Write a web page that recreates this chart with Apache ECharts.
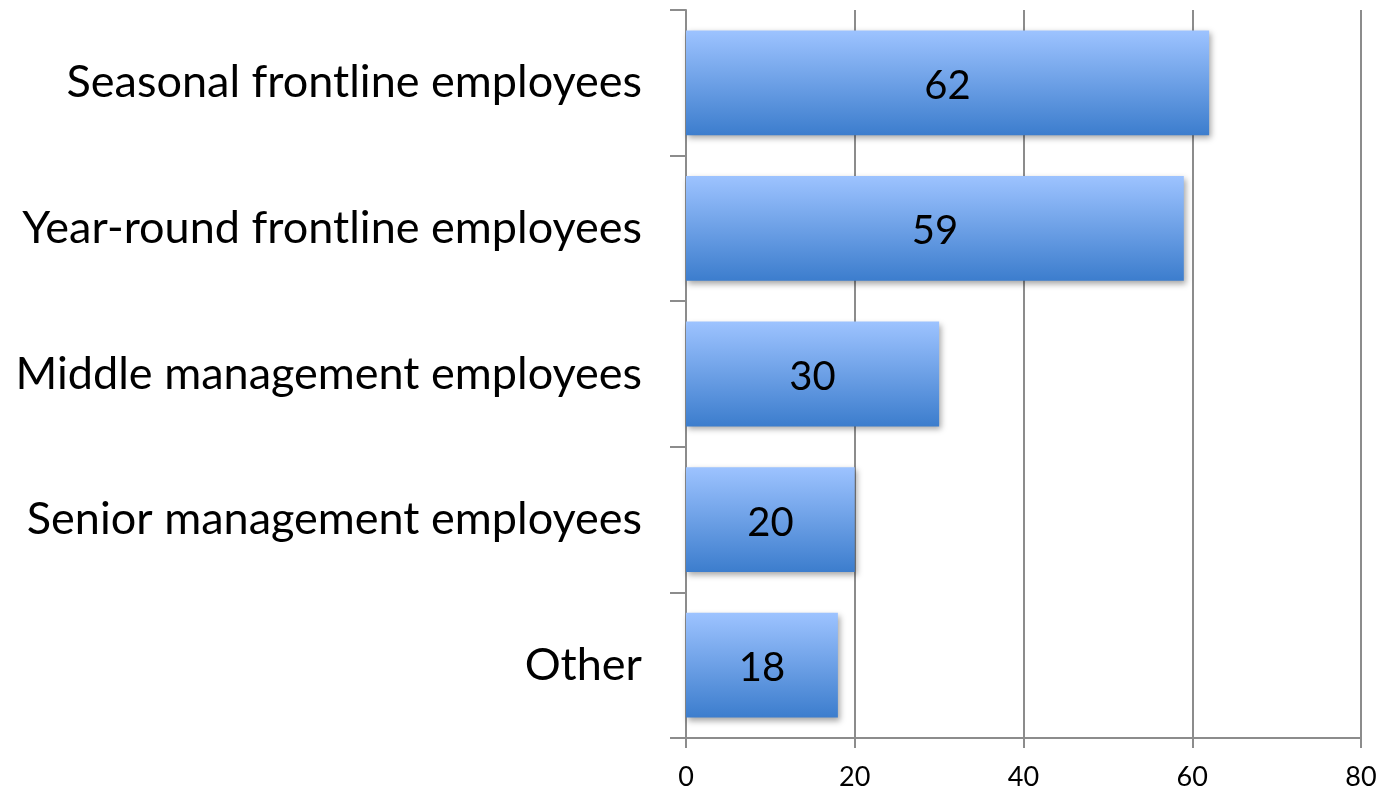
<!DOCTYPE html>
<html><head><meta charset="utf-8">
<script src="https://cdn.jsdelivr.net/npm/echarts@6/dist/echarts.min.js"></script>
<style>html,body{margin:0;padding:0;background:#fff}#c{width:1384px;height:792px}</style>
</head><body><div id="c"></div>
<script>
const categories = ["Seasonal frontline employees","Year-round frontline employees","Middle management employees","Senior management employees","Other"];
const values = [62, 59, 30, 20, 18];
const FONT = 'Lato';
const chart = echarts.init(document.getElementById('c'), null, {renderer:'canvas'});
chart.setOption({
  animation:false,
  grid:{left:686,right:23,top:10,bottom:54,containLabel:false},
  xAxis:{type:'value',min:0,max:80,interval:20,
    axisLine:{show:true,lineStyle:{color:'#8c8c8c',width:2}},
    axisTick:{show:true,length:10,lineStyle:{color:'#8c8c8c',width:2}},
    splitLine:{show:true,lineStyle:{color:'#8c8c8c',width:2}},
    axisLabel:{color:'#000',fontFamily:FONT,fontSize:27,margin:26}},
  yAxis:{type:'category',data:categories,inverse:true,
    axisLine:{show:true,lineStyle:{color:'#8c8c8c',width:2}},
    axisTick:{show:true,length:16,lineStyle:{color:'#8c8c8c',width:2}},
    axisLabel:{color:'#000',fontFamily:FONT,fontSize:45,margin:44}},
  series:[{type:'bar',data:values,barCategoryGap:'28%',
    itemStyle:{color:new echarts.graphic.LinearGradient(0,0,0,1,[{offset:0,color:'#9dc3ff'},{offset:1,color:'#3c7dcd'}]),
      shadowColor:'rgba(0,0,0,0.35)',shadowBlur:6,shadowOffsetX:2,shadowOffsetY:3},
    label:{show:true,position:'inside',color:'#000',fontFamily:FONT,fontSize:40,offset:[0,3]}}]
});
</script></body></html>
